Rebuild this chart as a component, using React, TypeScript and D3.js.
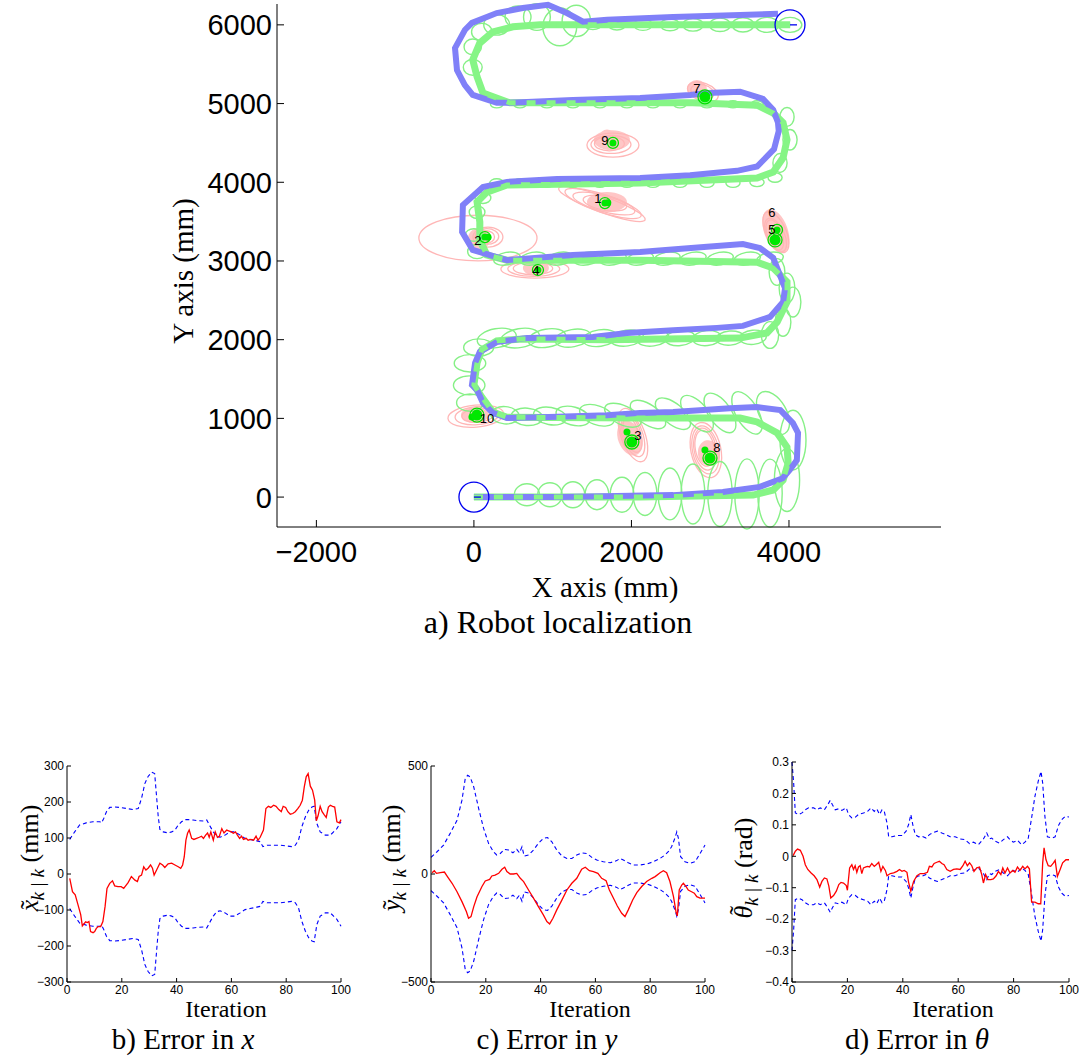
import React from "react";
import * as d3 from "d3";

// ---------------- Top panel data (mm) ----------------
const truePath: [number, number][] = [
  [0,0],[1090,0],[2530,25],[3160,65],[3630,130],[3920,240],[4010,345],[4100,470],[4115,815],[4050,940],
  [3890,1105],[3590,1145],[3250,1130],[2530,1080],[2110,1070],[1690,1040],[840,1015],[420,1005],[240,1070],
  [115,1195],[40,1360],[-25,1425],[15,1705],[75,1845],[290,1970],[675,2020],[1510,2035],[1945,2085],
  [2530,2120],[3085,2150],[3415,2175],[3760,2290],[3925,2480],[3950,2655],[3885,2820],[3800,3040],
  [3630,3165],[3415,3215],[2960,3180],[2110,3115],[1255,3075],[420,3010],[-15,3140],[-150,3370],
  [-140,3710],[115,3940],[420,4005],[1055,4040],[2110,4055],[2745,4090],[3340,4145],[3595,4200],
  [3810,4420],[3870,4650],[3860,4760],[3800,4920],[3670,5060],[3380,5150],[2960,5135],[2745,5110],
  [2110,5070],[1255,5045],[455,5010],[290,5010],[-15,5110],[-115,5235],[-215,5425],[-240,5705],
  [-115,5935],[-25,6025],[290,6150],[620,6215],[940,6255],[1180,6150],[1385,6040],[1690,6065],
  [2530,6100],[3380,6125],[3860,6140]
];

const estPath: [number, number][] = [
  [0,0],[1000,0],[2110,0],[3545,25],[3800,90],[3925,215],[3990,430],[3975,635],[3850,815],[3595,955],
  [3380,1005],[2110,1005],[420,1015],[240,1080],[100,1270],[0,1425],[40,1705],[100,1870],[290,1985],
  [620,2010],[1690,2000],[3380,2020],[3720,2085],[3850,2225],[3975,2480],[3975,2735],[3800,2910],
  [3595,2985],[2110,3010],[420,3010],[165,3075],[75,3265],[75,3495],[40,3750],[165,3875],[420,3965],
  [2110,3990],[3595,4055],[3800,4130],[3925,4310],[3975,4540],[3925,4755],[3800,4880],[3595,4980],
  [2780,5010],[455,5010],[115,5135],[40,5340],[-15,5555],[75,5770],[240,5910],[495,5975],[840,6000],
  [4015,6000]
];

// pose covariance ellipses: [cx, cy, rx, ry, rotationDeg]
const poseEllipses: number[][] = [
  [673,30,160,140,0],[965,30,155,152,0],[1257,30,150,165,0],[1562,30,150,190,0],[1880,30,150,222,0],
  [2172,40,150,273,0],[2489,40,150,330,0],[2781,40,150,381,0],[3124,40,155,413,0],[3467,40,155,445,0],
  [3759,50,155,432,0],
  [3975,216,160,400,0],[4051,724,165,380,0],[3797,1068,170,300,-30],
  [3467,1070,140,300,-30],[3124,1070,140,290,-35],[2832,1060,135,280,-40],[2527,1060,130,270,-50],
  [2210,1050,125,260,-55],[1892,1040,120,250,-65],[1562,1040,120,230,-70],[1257,1030,115,220,-75],
  [965,1030,110,210,-80],[673,1020,110,200,-85],[394,1040,110,180,-85],
  [-50,1200,170,110,0],[-60,1420,200,120,0],[-50,1700,200,110,0],[60,1900,190,110,0],
  [290,2020,250,120,-10],[584,2020,250,120,-10],[927,2020,240,115,-10],[1257,2020,230,110,-10],
  [1600,2020,220,105,-8],[1943,2020,210,100,-8],[2273,2020,200,100,-8],[2616,2020,190,95,-6],
  [2959,2020,180,95,-6],[3251,2020,175,90,-5],[3543,2030,170,90,-5],
  [3975,2656,100,190,0],[4051,2478,100,190,0],[3924,2224,100,180,0],[3759,2059,110,170,0],[3848,2860,100,170,0],
  [3760,3030,170,80,-10],[3470,3030,170,80,-10],[3125,3030,170,80,-10],[2780,3030,170,80,-10],
  [2450,3030,170,80,-10],[2110,3030,170,80,-10],[1765,3030,170,80,-10],[1435,3030,170,80,-10],
  [1090,3030,170,80,-10],[750,3030,170,80,-10],[420,3030,170,80,-10],
  [40,3120,120,90,0],[0,3330,110,80,0],[40,3620,100,80,0],[115,3800,100,70,0],
  [290,3990,90,55,0],[584,3990,90,55,0],[927,3990,90,55,0],[1257,3990,90,55,0],[1600,3990,90,55,0],
  [1943,3990,90,55,0],[2273,3990,90,55,0],[2616,3990,90,55,0],[2959,3990,90,55,0],[3289,3990,90,55,0],
  [3594,4000,90,55,0],[3823,4060,90,60,0],
  [3886,4245,90,120,0],[4013,4540,90,130,0],[3975,4830,90,120,0],
  [3594,4990,80,45,0],[3289,4990,80,45,0],[2959,4990,80,45,0],[2616,4990,80,45,0],[2273,4990,80,45,0],
  [1943,4990,80,45,0],[1600,4990,80,45,0],[1257,4990,80,45,0],[927,4990,80,45,0],[584,4990,80,45,0],
  [290,4990,80,45,0],
  [-15,5460,120,100,0],[-15,5720,110,100,0],[100,5910,130,110,0],[290,6000,165,130,0],[560,6100,165,140,0],
  [800,6100,170,170,0],[1090,5975,215,240,0],[1300,6050,180,200,0],
  [1511,6000,110,60,0],[1816,6000,115,65,0],[2146,6000,120,70,0],[2489,6000,125,75,0],[2781,6000,130,80,0],
  [3124,6000,135,85,0],[3416,6000,140,90,0],[3721,6000,150,95,0],[4013,6000,150,95,0]
];

// landmark covariance ellipses (outlines): [cx, cy, rx, ry, rotationDeg]
const landmarkEllipses: number[][] = [
  [1625,3723,584,102,20],[1640,3730,508,114,18],[1650,3730,406,102,15],[1663,3736,280,90,10],
  [51,3291,750,290,0],[178,3304,190,127,0],[165,3310,150,100,0],[152,3304,110,80,0],
  [2019,788,152,356,-20],[2010,800,130,300,-20],[2005,810,110,250,-18],[1995,820,90,200,-15],
  [774,2897,432,114,0],[760,2900,330,95,0],[750,2905,250,80,0],
  [3834,3367,127,280,-25],[3830,3330,110,230,-25],[3820,3330,95,200,-20],
  [2907,5146,203,114,20],[2900,5150,150,90,15],
  [2945,597,190,356,-12],[2940,600,165,310,-12],[2935,610,140,270,-10],[2930,620,120,230,-10],
  [1765,4472,330,152,0],[1740,4480,254,114,0],[1720,4490,190,90,0],
  [25,1029,356,140,-5],[40,1035,280,115,-5],[50,1040,203,90,-5]
];

// landmark filled blobs: [cx, cy, rx, ry, rotationDeg]
const landmarkBlobs: number[][] = [
  [1689,3748,254,127,0],[63,3278,140,140,0],[1980,750,150,230,-20],[787,2910,165,100,0],
  [3834,3380,150,290,-20],[2831,5184,127,114,0],[2984,559,140,165,-10],[1752,4535,230,127,0],
  [1690,4590,90,80,0],[13,1042,178,100,0]
];

const landmarkIds = ["1","2","3","4","5","6","7","8","9","10"];
const landmarkEst: [number, number][] = [
  [1663,3736],[140,3304],[2005,700],[813,2885],[3823,3267],[3848,3394],[2933,5085],[2997,496],[1765,4500],[38,1042]
];
const landmarkBig = [false,false,true,false,true,false,true,true,false,true];
const landmarkEarly: [number, number][] = [
  [1943,826],[2933,597],[-25,1017],[1700,3740],[180,3300]
];
const landmarkLabelPos: [number, number][] = [
  [1574,3799],[51,3265],[2082,788],[787,2884],[3783,3405],[3783,3612],[2831,5197],[3085,635],[1663,4536],[165,1004]
];
const startEnd: [number, number][] = [[0,0],[4013,6000]];
const markerRadiusMm = 190;

const topXTicks = [-2000, 0, 2000, 4000];
const topYTicks = [0, 1000, 2000, 3000, 4000, 5000, 6000];

// ---------------- Bottom panels data ----------------
const errX: [number, number][] = [
  [1,-12],[2,-49],[3,-58],[4,-85],[5,-113],[5.6,-144],[6.8,-133],[7.4,-135],[8,-132],[8.6,-160],[9.5,-163],
  [10.1,-160],[10.7,-151],[11.4,-146],[12.3,-146],[13.1,-132],[13.9,-90],[14.6,-40],[15.6,-26],[16.6,-19],
  [17.4,-33],[18.6,-35],[19.8,-35],[20.7,-40],[22.3,-24],[23.5,-7],[24.8,-17],[25.7,-21],[26.3,-7],[27.2,-3],
  [28,20],[28.8,11],[29.6,16],[30.5,25],[31.2,16],[31.8,-3],[32.7,11],[33.9,30],[34.9,25],[35.7,18],[36.9,28],
  [38.2,30],[39.4,25],[40.6,20],[41.5,16],[42.2,25],[42.8,48],[43.4,94],[44,113],[44.6,122],[45.5,99],[46.3,96],
  [47.3,99],[48.3,102],[49.1,105],[49.8,99],[50.6,108],[51.3,114],[51.9,102],[52.5,117],[53.4,94],[54.1,117],
  [54.9,102],[55.6,105],[56.5,126],[57.3,114],[58.3,122],[59,120],[60,117],[60.7,113],[61.5,117],[62.2,108],
  [63,99],[63.7,105],[64.4,96],[65.4,99],[66.1,94],[67.1,96],[68.1,94],[69,105],[69.7,94],[70.5,102],[71.7,122],
  [72.6,182],[73.5,188],[74.4,185],[75.4,191],[76.3,188],[77.3,179],[78.2,173],[78.9,188],[79.8,185],[80.6,173],
  [81.5,166],[82.4,168],[83.3,173],[84.3,182],[85.1,191],[85.9,205],[86.6,242],[87.3,270],[88,279],[88.8,244],
  [89.6,233],[90.4,205],[91,148],[91.6,161],[92.4,188],[93.1,173],[93.9,164],[94.6,157],[95.4,186],[96.1,191],
  [96.9,188],[97.7,186],[98.5,145],[99.4,142],[100,151]
];
const boundX: [number, number][] = [
  [1,96],[2,108],[2.8,117],[4.6,136],[7,142],[9.5,145],[12,145],[12.6,142],[13.4,154],[14.4,173],[15.6,185],
  [17.4,186],[19.3,185],[21.7,182],[24.1,179],[26,182],[27.2,210],[28.4,251],[29.6,271],[30.9,283],[32,279],
  [32.7,214],[33.3,159],[33.9,124],[35.1,117],[36.9,114],[38.2,117],[39.4,122],[40.6,136],[41.8,145],[43,151],
  [44.3,151],[46,150],[47.9,148],[49.8,147],[51,150],[52.2,133],[53.4,117],[54.6,105],[55.9,102],[57.7,108],
  [59.5,117],[61.3,117],[63.2,108],[65,99],[66.8,96],[69.3,92],[70.5,90],[71.5,76],[73,80],[75.4,80],[77.8,80],
  [80.2,78],[82,76],[83.3,80],[84.5,94],[85.7,131],[87,159],[88.2,177],[89.4,186],[90.2,188],[91.2,140],
  [92.4,117],[94.3,108],[96.1,108],[97.3,117],[98.5,126],[100,145]
];
const errY: [number, number][] = [
  [0.4,6],[1.2,15],[2,3],[3.4,6],[4.9,9],[6,-12],[7.7,-43],[9.5,-82],[11.3,-128],[12.9,-174],[13.7,-205],
  [14.6,-197],[15.6,-151],[16.8,-105],[18.6,-58],[19.8,-32],[21.4,-25],[22.2,-9],[23.4,-5],[24.7,3],[25.9,22],
  [26.9,31],[27.7,11],[28.9,0],[30.1,0],[31.3,3],[32.6,-20],[33.8,-35],[35.6,-74],[37.4,-112],[39.2,-151],
  [41,-189],[42.3,-220],[43.3,-231],[44.5,-205],[45.9,-166],[47.8,-120],[49.6,-74],[51.4,-43],[53.2,-20],
  [55,22],[56.3,31],[57.8,15],[59.3,11],[60.9,3],[62.3,-20],[63.9,-31],[65.1,-74],[66.6,-112],[68,-148],
  [69.6,-182],[70.8,-197],[72,-166],[73.6,-120],[75.1,-86],[76.9,-58],[78.7,-35],[80.6,-20],[81.8,-12],
  [83.6,6],[84.8,15],[86,6],[87.2,-35],[88.5,-105],[89.4,-174],[89.9,-194],[90.6,-74],[91.5,-51],[92.1,-43],
  [93.1,-58],[93.9,-74],[95.1,-82],[96.1,-89],[97,-105],[98.2,-112],[100,-112]
];
const boundY: [number, number][] = [
  [0,77],[2.2,103],[4.6,134],[7,188],[9.5,249],[11.3,342],[12.5,442],[13.4,457],[14.3,449],[15.6,403],
  [17.4,303],[19.2,211],[21,142],[22.8,103],[24,88],[25.3,95],[26.7,114],[28.3,111],[29.9,98],[31.3,114],
  [32.3,98],[33.2,126],[34,83],[35.6,88],[37.4,111],[39.2,142],[41,165],[42.5,169],[44.1,149],[45.9,111],
  [47.8,83],[49.6,72],[51.4,72],[53.2,88],[55,98],[56.9,95],[58.7,77],[60.5,65],[62.9,57],[65.4,52],
  [67.8,62],[69,72],[70.2,65],[72,52],[73.9,42],[76.3,42],[78.7,46],[81.2,57],[83.6,72],[85.4,88],
  [86.6,103],[87.8,126],[89.1,169],[89.7,195],[90.3,165],[91.1,80],[92.7,57],[94.5,49],[96.4,57],
  [98.2,95],[100,134]
];
const errTheta: [number, number][] = [
  [0.4,0.002],[1.2,0.016],[2,0.023],[3,0.019],[4,0],[4.8,-0.027],[5.7,-0.042],[6.9,-0.053],[8,-0.062],
  [9,-0.074],[10,-0.098],[10.8,-0.08],[11.7,-0.069],[12.6,-0.072],[13.3,-0.095],[14,-0.133],[15,-0.125],
  [16,-0.111],[16.9,-0.09],[17.7,-0.083],[18.6,-0.085],[19.6,-0.093],[20,-0.108],[20.8,-0.037],[21.6,-0.027],
  [22.2,-0.042],[22.8,-0.03],[23.4,-0.051],[24,-0.034],[24.6,-0.03],[25.2,-0.055],[25.8,-0.037],[26.7,-0.034],
  [27.3,-0.032],[28,-0.034],[28.8,-0.023],[29.7,-0.032],[30.4,-0.027],[31.3,-0.019],[32.1,-0.048],[32.8,-0.032],
  [33.7,-0.045],[34.3,-0.062],[35.5,-0.055],[36.7,-0.053],[37.9,-0.048],[38.8,-0.042],[39.7,-0.048],
  [40.5,-0.045],[41.5,-0.051],[42.1,-0.083],[42.9,-0.111],[43.9,-0.08],[45.1,-0.062],[46.3,-0.055],
  [47.7,-0.055],[48.9,-0.051],[49.6,-0.032],[50.5,-0.034],[51.3,-0.023],[52.3,-0.019],[53.2,-0.016],
  [54.1,-0.023],[54.9,-0.027],[55.9,-0.042],[57.1,-0.048],[58.3,-0.042],[59.5,-0.04],[60.7,-0.042],
  [61.7,-0.03],[62.5,-0.016],[63.3,-0.03],[64.1,-0.021],[64.9,-0.03],[65.7,-0.048],[66.7,-0.037],
  [67.7,-0.034],[68.5,-0.058],[69.1,-0.085],[69.9,-0.058],[70.7,-0.074],[71.8,-0.074],[72.7,-0.072],
  [73.7,-0.062],[74.5,-0.048],[75.4,-0.058],[76.1,-0.037],[76.9,-0.053],[77.8,-0.037],[78.7,-0.053],
  [79.7,-0.045],[80.5,-0.051],[81.4,-0.034],[82.3,-0.045],[83.3,-0.032],[84.1,-0.04],[85,-0.032],
  [85.7,-0.04],[86.5,-0.146],[87.7,-0.146],[88.9,-0.151],[89.8,-0.151],[90.5,-0.021],[91,0.027],
  [91.7,-0.011],[92.5,-0.03],[93.4,-0.032],[94.4,-0.021],[95,-0.013],[95.8,-0.064],[96.8,-0.042],
  [97.7,-0.021],[98.9,-0.011],[100,-0.011]
];
const boundTheta: [number, number][] = [
  [0,0.3],[0.6,0.233],[1.2,0.138],[2.4,0.133],[3.6,0.138],[4.8,0.148],[6,0.154],[7.8,0.154],[9,0.148],
  [10.2,0.154],[11.7,0.148],[12.9,0.164],[13.8,0.178],[14.6,0.164],[15.6,0.148],[16.8,0.151],[18,0.146],
  [19.6,0.154],[20.4,0.133],[21.6,0.122],[22.8,0.124],[24,0.133],[25.8,0.138],[27.3,0.143],[28.5,0.154],
  [29.7,0.143],[30.6,0.151],[31.6,0.133],[32.5,0.148],[33.3,0.143],[34.3,0.106],[34.9,0.062],[36.1,0.062],
  [37.9,0.066],[39.7,0.066],[41.2,0.08],[42.1,0.101],[42.9,0.133],[43.6,0.101],[44.5,0.069],[45.7,0.062],
  [46.9,0.064],[48.4,0.058],[49.6,0.069],[51.1,0.076],[52.5,0.08],[54.1,0.074],[55.6,0.069],[57.1,0.062],
  [58.9,0.062],[60.7,0.055],[62.5,0.053],[64.1,0.04],[65.5,0.045],[67.3,0.037],[69.1,0.055],[70.3,0.074],
  [71.3,0.055],[72.1,0.058],[73.3,0.048],[74.9,0.042],[76.3,0.053],[77.8,0.062],[78.7,0.053],[79.9,0.045],
  [81.4,0.051],[82.9,0.037],[84.1,0.045],[85.3,0.058],[86.5,0.122],[87.7,0.191],[88.9,0.239],[89.9,0.27],
  [90.5,0.233],[91.3,0.127],[92.2,0.062],[93.8,0.058],[95,0.062],[96.2,0.098],[97.4,0.117],[98.6,0.127],
  [100,0.125]
];

const iterTicks = [0, 20, 40, 60, 80, 100];
const xErrTicks = [-300, -200, -100, 0, 100, 200, 300];
const yErrTicks = [-500, 0, 500];
const thErrTicks = [-0.4, -0.3, -0.2, -0.1, 0, 0.1, 0.2, 0.3];

const SANS = '"Liberation Sans", Arial, Helvetica, sans-serif';
const SERIF = '"Liberation Serif", "Times New Roman", Times, serif';

const fmtTick = (v: number) => (v < 0 ? "\u2212" + String(Math.abs(v)) : String(v));

function TopPanel() {
  const L = 277, R = 941, T = 4, B = 527;
  const xs = d3.scaleLinear().domain([-2500, 5930]).range([L, R]);
  const ys = d3.scaleLinear().domain([-380, 6265]).range([B, T]);
  const kx = (R - L) / 8430;
  const ky = (B - T) / 6645;
  const line = d3.line<[number, number]>().x(d => xs(d[0])).y(d => ys(d[1]));
  const ell = (e: number[], i: number, props: any) => {
    const cx = xs(e[0]), cy = ys(e[1]);
    return (
      <ellipse key={i} cx={cx} cy={cy} rx={e[2] * kx} ry={e[3] * ky}
        transform={`rotate(${e[4]} ${cx} ${cy})`} {...props} />
    );
  };
  return (
    <g>
      {landmarkBlobs.map((e, i) => ell(e, i, { fill: "#ffc6c6", stroke: "none" }))}
      {landmarkEllipses.map((e, i) => ell(e, i, { fill: "none", stroke: "#ffb6b6", strokeWidth: 1.3 }))}
      {poseEllipses.map((e, i) => ell(e, i, { fill: "none", stroke: "#86f086", strokeWidth: 1.4 }))}
      <path d={line(estPath) || ""} fill="none" stroke="#86f586" strokeWidth={7} strokeLinejoin="miter" />
      <path d={line(truePath) || ""} fill="none" stroke="#8080f8" strokeWidth={6} strokeLinejoin="miter" />
      <path d={line(estPath) || ""} fill="none" stroke="#86f586" strokeWidth={5} strokeDasharray="9 11" />
      {landmarkEarly.map((p, i) => (
        <circle key={i} cx={xs(p[0])} cy={ys(p[1])} r={3.5} fill="#00e800" />
      ))}
      {landmarkEst.map((p, i) => (
        <g key={i}>
          <circle cx={xs(p[0])} cy={ys(p[1])} r={landmarkBig[i] ? 7 : 5.5} fill="none" stroke="#00e000" strokeWidth={1.3} />
          <circle cx={xs(p[0])} cy={ys(p[1])} r={landmarkBig[i] ? 5.5 : 3.5} fill="#00e800" />
        </g>
      ))}
      {landmarkIds.map((id, i) => (
        <text key={id} x={xs(landmarkLabelPos[i][0])} y={ys(landmarkLabelPos[i][1])} fontFamily={SANS}
          fontSize={13} textAnchor="middle" dominantBaseline="central" fill="#000">{id}</text>
      ))}
      {startEnd.map((p, i) => (
        <g key={i}>
          <circle cx={xs(p[0])} cy={ys(p[1])} r={markerRadiusMm * kx} fill="none" stroke="#0000f0" strokeWidth={1.3} />
          <line x1={xs(p[0])} y1={ys(p[1])} x2={xs(p[0]) + 7} y2={ys(p[1])} stroke="#0000f0" strokeWidth={1.3} />
        </g>
      ))}
      <line x1={L} y1={T} x2={L} y2={B} stroke="#000" strokeWidth={1} />
      <line x1={L} y1={B} x2={R} y2={B} stroke="#000" strokeWidth={1} />
      {topXTicks.map(t => (
        <g key={t}>
          <line x1={xs(t)} x2={xs(t)} y1={B} y2={B - 7} stroke="#000" />
          <text x={xs(t)} y={562} textAnchor="middle" fontFamily={SANS} fontSize={29}>{fmtTick(t)}</text>
        </g>
      ))}
      {topYTicks.map(t => (
        <g key={t}>
          <line x1={L} x2={L + 7} y1={ys(t)} y2={ys(t)} stroke="#000" />
          <text x={272} y={ys(t) + 10.5} textAnchor="end" fontFamily={SANS} fontSize={29}>{fmtTick(t)}</text>
        </g>
      ))}
      <text x={605} y={597} textAnchor="middle" fontFamily={SERIF} fontSize={29}>X axis (mm)</text>
      <text transform="translate(193,271) rotate(-90)" textAnchor="middle" fontFamily={SERIF} fontSize={29}>Y axis (mm)</text>
      <text x={558} y={633} textAnchor="middle" fontFamily={SERIF} fontSize={32}>a) Robot localization</text>
    </g>
  );
}

function ErrPanel(props: {
  L: number; R: number; T: number; B: number; yDomain: [number, number]; yTicks: number[];
  err: [number, number][]; bound: [number, number][]; sym: string; tildeDx: number; tildeDy: number; unit: string;
  labelX: number; labelY: number; iterX: number; caption: string; capSym: string; capX: number;
}) {
  const { L, R, T, B } = props;
  const xs = d3.scaleLinear().domain([0, 100]).range([L, R]);
  const ys = d3.scaleLinear().domain(props.yDomain).range([B, T]);
  const line = d3.line<[number, number]>().x(d => xs(d[0])).y(d => ys(d[1]));
  const lower = props.bound.map(d => [d[0], -d[1]] as [number, number]);
  return (
    <g>
      <path d={line(props.bound) || ""} fill="none" stroke="#0000ff" strokeWidth={1.1} strokeDasharray="4 3" />
      <path d={line(lower) || ""} fill="none" stroke="#0000ff" strokeWidth={1.1} strokeDasharray="4 3" />
      <path d={line(props.err) || ""} fill="none" stroke="#ff0000" strokeWidth={1.3} />
      <line x1={L} y1={T} x2={L} y2={B} stroke="#000" />
      <line x1={L} y1={B} x2={R} y2={B} stroke="#000" />
      {iterTicks.map(t => (
        <g key={t}>
          <line x1={xs(t)} x2={xs(t)} y1={B} y2={B - 4} stroke="#000" />
          <text x={xs(t)} y={B + 11.5} textAnchor="middle" fontFamily={SANS} fontSize={12}>{t}</text>
        </g>
      ))}
      {props.yTicks.map(t => (
        <g key={t}>
          <line x1={L} x2={L + 4} y1={ys(t)} y2={ys(t)} stroke="#000" />
          <text x={L - 3} y={ys(t) + 4.3} textAnchor="end" fontFamily={SANS} fontSize={12}>{fmtTick(t)}</text>
        </g>
      ))}
      <text transform={`translate(${props.labelX},${props.labelY}) rotate(-90)`} textAnchor="middle" fontFamily={SERIF} fontSize={26}>
        <tspan fontStyle="italic">{props.sym}</tspan>
        <tspan dx={props.tildeDx} dy={props.tildeDy}>{"\u02dc"}</tspan>
        <tspan fontStyle="italic" fontSize={19} dy={-props.tildeDy + 6}>{"k | k"}</tspan>
        <tspan dy={-6}>{"\u00a0(" + props.unit + ")"}</tspan>
      </text>
      <text x={props.iterX} y={1017} textAnchor="middle" fontFamily={SERIF} fontSize={24}>Iteration</text>
      <text x={props.capX} y={1049} textAnchor="middle" fontFamily={SERIF} fontSize={29}>
        {props.caption}<tspan fontStyle="italic">{props.capSym}</tspan>
      </text>
    </g>
  );
}

export default function App() {
  return (
    <svg width={1083} height={1058} style={{ position: "absolute", left: 0, top: 0, background: "#fff" }}>
      <rect x={0} y={0} width={1083} height={1058} fill="#fff" />
      <TopPanel />
      <ErrPanel L={67} R={341} T={766} B={982} yDomain={[-300, 300]} yTicks={xErrTicks}
        err={errX} bound={boundX} sym="x" tildeDx={-9.5} tildeDy={0} unit="mm" labelX={38} labelY={858} iterX={226}
        caption="b) Error in " capSym="x" capX={183} />
      <ErrPanel L={431} R={705} T={766} B={982} yDomain={[-500, 500]} yTicks={yErrTicks}
        err={errY} bound={boundY} sym="y" tildeDx={-9.5} tildeDy={0} unit="mm" labelX={400} labelY={858} iterX={590}
        caption="c) Error in " capSym="y" capX={547} />
      <ErrPanel L={792} R={1069} T={762} B={982} yDomain={[-0.4, 0.3]} yTicks={thErrTicks}
        err={errTheta} bound={boundTheta} sym={"\u03b8"} tildeDx={-9} tildeDy={-5} unit="rad" labelX={752} labelY={868} iterX={953}
        caption="d) Error in " capSym={"\u03b8"} capX={917} />
    </svg>
  );
}
